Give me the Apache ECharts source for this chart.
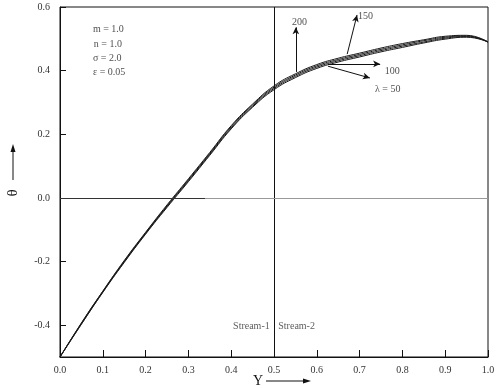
<!DOCTYPE html>
<html><head><meta charset="utf-8">
<script src="https://cdn.jsdelivr.net/npm/echarts@6/dist/echarts.min.js"></script>
<style>html,body{margin:0;padding:0;background:#fff}#c{width:498px;height:388px}</style>
</head><body><div id="c"></div>
<script>
var Yvals = [0,0.05,0.1,0.15,0.2,0.25,0.3,0.35,0.4,0.45,0.5,0.55,0.6,0.65,0.7,0.75,0.8,0.85,0.9,0.95,1.0];
var lam50  = [-0.5,-0.397,-0.297,-0.203,-0.114,-0.030,0.051,0.134,0.217,0.285,0.340,0.378,0.407,0.427,0.443,0.459,0.473,0.487,0.499,0.505,0.490];
var lam100 = [-0.5,-0.396,-0.296,-0.201,-0.112,-0.027,0.054,0.137,0.220,0.288,0.344,0.382,0.411,0.431,0.447,0.463,0.477,0.490,0.502,0.507,0.490];
var lam150 = [-0.5,-0.394,-0.294,-0.199,-0.110,-0.025,0.057,0.140,0.224,0.292,0.348,0.386,0.415,0.435,0.451,0.467,0.481,0.494,0.505,0.509,0.490];
var lam200 = [-0.5,-0.393,-0.293,-0.197,-0.108,-0.022,0.060,0.143,0.227,0.295,0.352,0.390,0.419,0.439,0.455,0.471,0.485,0.497,0.508,0.511,0.490];
var xTicks = [0,0.1,0.2,0.3,0.4,0.5,0.6,0.7,0.8,0.9,1.0];
var yTicks = [-0.4,-0.2,0,0.2,0.4,0.6];
var paramText = ['m = 1.0','n = 1.0','\u03c3 = 2.0','\u03b5 = 0.05'];
var paramPos = [[0.077,0.531],[0.079,0.484],[0.077,0.440],[0.077,0.396]];
var lamLabels = ['200','150','100','\u03bb = 50'];
var lamLabelPos = [[0.542,0.553],[0.696,0.570],[0.759,0.397],[0.736,0.342]];
var arrows = [[[0.551,0.396],[0.551,0.536]],[[0.671,0.452],[0.694,0.575]],[[0.626,0.421],[0.748,0.421]],[[0.626,0.414],[0.724,0.377]]];
var streamText = ['Stream-1','Stream-2'];
var streamPos = [[0.49,-0.405],[0.51,-0.405]];

function pts(arr){ return Yvals.map(function(x,i){return [x,arr[i]];}); }
var serif = 'Liberation Serif';
var curveStyle = {color:'#1a1a1a', width:1};
function curve(name, arr){
  return {name:name, type:'line', data:pts(arr), showSymbol:false, smooth:0.5, lineStyle:curveStyle, z:3, silent:true};
}
var textData = [];
paramText.forEach(function(t,i){ textData.push({value:paramPos[i], txt:t, align:'left', color:'#222'}); });
lamLabels.forEach(function(t,i){ textData.push({value:lamLabelPos[i], txt:t, align:'left', color:'#222'}); });
textData.push({value:streamPos[0], txt:streamText[0], align:'right', color:'#333'});
textData.push({value:streamPos[1], txt:streamText[1], align:'left', color:'#333'});

var chart = echarts.init(document.getElementById('c'), null, {renderer:'canvas'});
chart.setOption({
  animation:false,
  backgroundColor:'#fff',
  grid:{left:60, right:10, top:7, bottom:31, show:true, borderColor:'#111', borderWidth:1, backgroundColor:'transparent'},
  xAxis:{type:'value', min:0, max:1, interval:0.1,
    axisLine:{show:true, onZero:false, lineStyle:{color:'#111'}},
    axisTick:{show:true, inside:true, length:7, lineStyle:{color:'#111'}},
    splitLine:{show:false},
    axisLabel:{fontFamily:serif, fontSize:10, color:'#333', margin:8, formatter:function(v){return v.toFixed(1);}}
  },
  yAxis:{type:'value', min:-0.5, max:0.6,
    axisLine:{show:true, onZero:false, lineStyle:{color:'#111'}},
    axisTick:{show:true, inside:true, length:6, customValues:yTicks, lineStyle:{color:'#111'}},
    splitLine:{show:false},
    axisLabel:{fontFamily:serif, fontSize:10, color:'#333', margin:10, customValues:yTicks, formatter:function(v){return v.toFixed(1);}}
  },
  series:[
    curve('\u03bb=50', lam50),
    curve('\u03bb=100', lam100),
    curve('\u03bb=150', lam150),
    curve('\u03bb=200', lam200),
    {name:'ref', type:'line', data:[], silent:true,
      markLine:{silent:true, symbol:['none','none'], animation:false, label:{show:false},
        data:[
          [{coord:[0.5,-0.5], lineStyle:{color:'#111', width:1, type:'solid'}},{coord:[0.5,0.6]}],
          [{coord:[0,0], lineStyle:{color:'#333', width:1, type:'solid'}},{coord:[0.34,0]}],
          [{coord:[0.34,0], lineStyle:{color:'#999', width:1, type:'solid'}},{coord:[1,0]}]
        ]}
    },
    {name:'arrows', type:'line', data:[], silent:true,
      markLine:{silent:true, symbol:['none','arrow'], symbolSize:[5,7], animation:false, label:{show:false},
        lineStyle:{color:'#111', width:1, type:'solid'},
        data: arrows.map(function(a){ return [{coord:a[0]},{coord:a[1]}]; })
      }
    },
    {name:'text', type:'scatter', symbolSize:0, silent:true, z:5,
      data: textData.map(function(d){ return {value:d.value, label:{show:true, position:'inside', formatter:d.txt, align:d.align, verticalAlign:'middle', color:d.color, fontFamily:serif, fontSize:10}}; })
    }
  ],
  graphic:[
    {type:'text', x:13, y:193, rotation:Math.PI/2, style:{text:'\u03b8', font:'15px "Liberation Serif"', fill:'#111', align:'center', verticalAlign:'middle'}},
    {type:'line', shape:{x1:13, y1:180, x2:13, y2:150}, style:{stroke:'#111', lineWidth:1}},
    {type:'polygon', shape:{points:[[13,144],[10.5,152],[15.5,152]]}, style:{fill:'#111'}},
    {type:'text', x:258, y:381, style:{text:'Y', font:'14px "Liberation Serif"', fill:'#111', align:'center', verticalAlign:'middle'}},
    {type:'line', shape:{x1:266, y1:381, x2:305, y2:381}, style:{stroke:'#111', lineWidth:1}},
    {type:'polygon', shape:{points:[[311,381],[303,378.5],[303,383.5]]}, style:{fill:'#111'}}
  ]
});
</script></body></html>
